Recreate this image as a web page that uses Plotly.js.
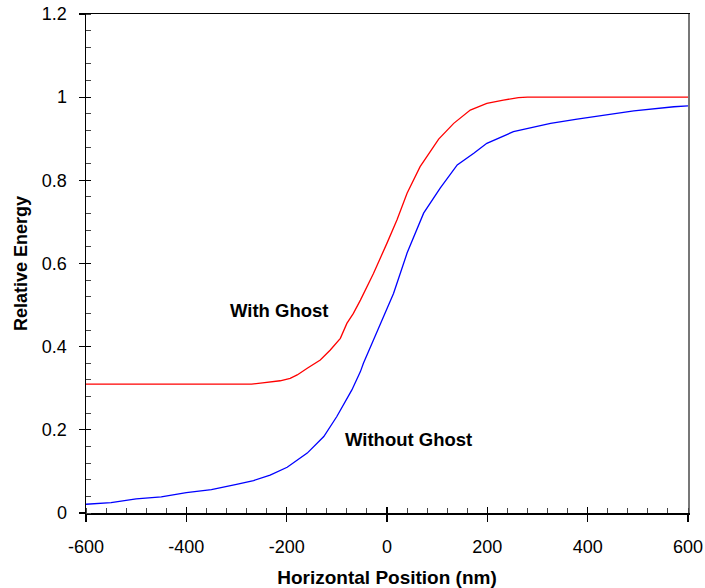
<!DOCTYPE html>
<html>
<head>
<meta charset="utf-8">
<script src="https://cdn.plot.ly/plotly-3.0.1.min.js"></script>
<style>html,body{margin:0;padding:0;background:#fff;}#chart{width:705px;height:588px;}</style>
</head>
<body>
<div id="chart"></div>
<script>
// With Ghost (red)
const redX = [-600, -270, -248, -213, -193, -179, -159, -140, -133, -113, -93, -80, -67, -53, -37, -27, 0, 20, 40, 66, 103, 133, 166, 199, 232, 262, 280, 600];
const redY = [0.310, 0.310, 0.313, 0.318, 0.324, 0.332, 0.348, 0.364, 0.368, 0.392, 0.420, 0.456, 0.480, 0.512, 0.550, 0.576, 0.649, 0.705, 0.769, 0.833, 0.899, 0.937, 0.969, 0.985, 0.993, 0.999, 1.0, 1.0];
// Without Ghost (blue)
const blueX = [-600, -550, -500, -450, -400, -350, -300, -266, -233, -199, -159, -126, -100, -70, -53, -47, -27, -7, 13, 40, 73, 106, 140, 173, 199, 252, 326, 379, 432, 492, 572, 600];
const blueY = [0.021, 0.025, 0.034, 0.039, 0.049, 0.056, 0.069, 0.078, 0.091, 0.110, 0.144, 0.184, 0.232, 0.296, 0.340, 0.360, 0.416, 0.472, 0.528, 0.625, 0.721, 0.781, 0.837, 0.865, 0.889, 0.917, 0.937, 0.947, 0.957, 0.967, 0.977, 0.979];

// tick labels
const xTickVals = [-600, -400, -200, 0, 200, 400, 600];
const xTickText = ['-600', '-400', '-200', '0', '200', '400', '600'];
const yTickVals = [0, 0.2, 0.4, 0.6, 0.8, 1, 1.2];
const yTickText = ['0', '0.2', '0.4', '0.6', '0.8', '1', '1.2'];

const xRange = [-600, 600];
const yRange = [0, 1.2];
const font = 'Liberation Sans, Arial, sans-serif';

const traces = [
  {x: redX, y: redY, mode: 'lines', line: {color: '#ff0000', width: 1.3}, name: 'With Ghost', hoverinfo: 'skip'},
  {x: blueX, y: blueY, mode: 'lines', line: {color: '#0000ff', width: 1.3}, name: 'Without Ghost', hoverinfo: 'skip'}
];

const layout = {
  width: 705, height: 588,
  margin: {l: 86, r: 17, t: 14, b: 75},
  paper_bgcolor: '#fff', plot_bgcolor: '#fff',
  showlegend: false,
  font: {family: font, size: 18, color: '#000'},
  xaxis: {
    range: xRange, tickmode: 'array', tickvals: xTickVals, ticktext: xTickText,
    showgrid: false, zeroline: false,
    showline: true, linecolor: '#000', linewidth: 1.5, mirror: true,
    ticks: 'outside', ticklen: 7, tickwidth: 1.2, tickcolor: '#000',
    ticklabelstandoff: 10,
    minor: {ticks: 'inside', dtick: 40, tick0: -600, ticklen: 5, tickcolor: '#444', tickwidth: 1},
    tickfont: {family: font, size: 18},
    title: {text: '<b>Horizontal Position (nm)</b>', font: {family: font, size: 19}, standoff: 14}
  },
  xaxis2: {
    range: xRange, tickmode: 'array', tickvals: xTickVals, overlaying: 'x', anchor: 'y',
    showgrid: false, zeroline: false, showline: false,
    ticks: 'inside', ticklen: 6, tickwidth: 1.2, tickcolor: '#000', showticklabels: false
  },
  yaxis: {
    range: yRange, tickmode: 'array', tickvals: yTickVals, ticktext: yTickText,
    showgrid: false, zeroline: false,
    showline: true, linecolor: '#000', linewidth: 1.5,
    ticks: 'outside', ticklen: 6, tickwidth: 1.2, tickcolor: '#000',
    ticklabelstandoff: 8,
    minor: {ticks: 'inside', dtick: 0.04, tick0: 0, ticklen: 5, tickcolor: '#444', tickwidth: 1},
    tickfont: {family: font, size: 18},
    title: {text: '<b>Relative Energy</b>', font: {family: font, size: 18}, standoff: 9}
  },
  yaxis2: {
    range: yRange, tickmode: 'array', tickvals: yTickVals, overlaying: 'y', anchor: 'x', side: 'left',
    showgrid: false, zeroline: false, showline: false,
    ticks: 'inside', ticklen: 5, tickwidth: 1.2, tickcolor: '#000', showticklabels: false
  },
  yaxis3: {
    range: yRange, overlaying: 'y', anchor: 'x', side: 'right',
    showgrid: false, zeroline: false, showline: true, linecolor: '#777', linewidth: 1.5,
    ticks: '', showticklabels: false
  },
  annotations: [
    {x: -215, y: 0.486, xref: 'x', yref: 'y', text: '<b>With Ghost</b>', showarrow: false, font: {family: font, size: 18.5, color: '#000'}},
    {x: 43, y: 0.176, xref: 'x', yref: 'y', text: '<b>Without Ghost</b>', showarrow: false, font: {family: font, size: 18.5, color: '#000'}}
  ]
};

// empty traces that bind the overlay axes (tick crossings / right frame line)
traces.push({x: [], y: [], xaxis: 'x2', yaxis: 'y', mode: 'lines', showlegend: false, hoverinfo: 'skip'});
traces.push({x: [], y: [], xaxis: 'x', yaxis: 'y2', mode: 'lines', showlegend: false, hoverinfo: 'skip'});
traces.push({x: [], y: [], xaxis: 'x', yaxis: 'y3', mode: 'lines', showlegend: false, hoverinfo: 'skip'});

Plotly.newPlot('chart', traces, layout, {displayModeBar: false, staticPlot: true});
</script>
</body>
</html>
